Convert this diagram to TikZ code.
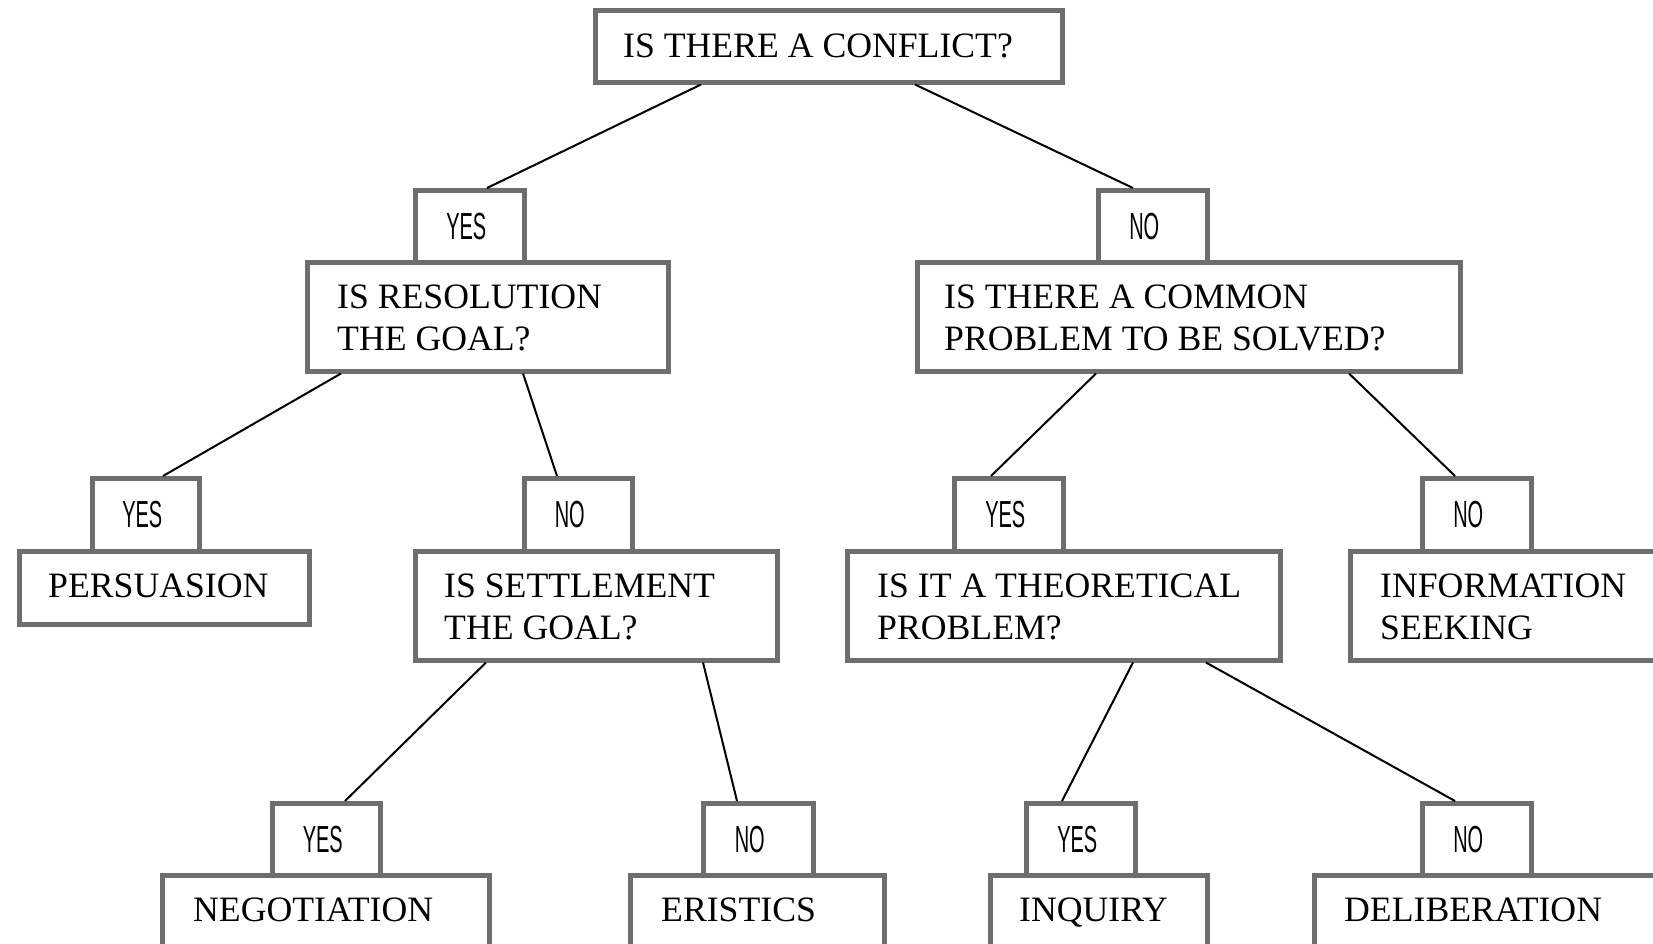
\documentclass[tikz,border=0pt]{standalone}
\usepackage{fontspec}
\usepackage{graphicx}
\setmainfont{Liberation Serif}
\newfontfamily\lblfont{Liberation Sans}
\definecolor{boxgray}{HTML}{6e6e6e}
\newcommand\lbltext[1]{\scalebox{0.53}[1]{\fontsize{37.7}{40}\lblfont #1}}
\newcommand\mkbox[5]{\node[box, minimum width=#4pt, minimum height=#5pt] (#1) at (#2,#3) {};}
\begin{document}
\begin{tikzpicture}[x=1pt,y=-1pt,
  box/.style={draw=boxgray, line width=4.5pt, inner sep=0pt, anchor=north west},
  txt/.style={anchor=base west, inner sep=0pt, font=\fontsize{35.7}{42}\selectfont},
  yestxt/.style={inner sep=0pt, xshift=-3.5pt},
  notxt/.style={inner sep=0pt, xshift=-8.5pt},
  conn/.style={draw=black, line width=2pt}]
\clip (0,0) rectangle (1653,943);
\fill[white] (0,0) rectangle (1653,943);
% boxes
\mkbox{top}{593}{8}{467}{72}
\mkbox{yes1}{413}{188}{109}{72}
\mkbox{no1}{1096}{188}{109}{72}
\mkbox{res}{305}{260}{361}{109}
\mkbox{com}{915}{260}{543}{109}
\mkbox{yes2}{90}{476}{107}{73}
\mkbox{no2}{522}{476}{108}{73}
\mkbox{yes3}{952}{476}{109}{73}
\mkbox{no3}{1420}{476}{109}{73}
\mkbox{pers}{17}{549}{290}{73}
\mkbox{sett}{413}{549}{362}{109}
\mkbox{theo}{845}{549}{433}{109}
\mkbox{info}{1348}{549}{400}{109}
\mkbox{yes4}{270}{801}{108}{72}
\mkbox{no4}{701}{801}{110}{72}
\mkbox{yes5}{1024}{801}{109}{72}
\mkbox{no5}{1420}{801}{109}{72}
\mkbox{nego}{160}{873}{327}{100}
\mkbox{eris}{628}{873}{254}{100}
\mkbox{inq}{988}{873}{217}{100}
\mkbox{delib}{1312}{873}{400}{100}
% labels
\node[yestxt] (yes1-t) at (yes1.center) {\lbltext{YES}};
\node[notxt] (no1-t) at (no1.center) {\lbltext{NO}};
\node[yestxt] (yes2-t) at (yes2.center) {\lbltext{YES}};
\node[notxt] (no2-t) at (no2.center) {\lbltext{NO}};
\node[yestxt] (yes3-t) at (yes3.center) {\lbltext{YES}};
\node[notxt] (no3-t) at (no3.center) {\lbltext{NO}};
\node[yestxt] (yes4-t) at (yes4.center) {\lbltext{YES}};
\node[notxt] (no4-t) at (no4.center) {\lbltext{NO}};
\node[yestxt] (yes5-t) at (yes5.center) {\lbltext{YES}};
\node[notxt] (no5-t) at (no5.center) {\lbltext{NO}};
% texts
\node[txt] (top-t) at ([shift={(30,49)}]top.north west) {IS THERE A CONFLICT?};
\node[txt] (res-t1) at ([shift={(32,48)}]res.north west) {IS RESOLUTION};
\node[txt] (res-t2) at ([shift={(32,90)}]res.north west) {THE GOAL?};
\node[txt] (com-t1) at ([shift={(29,48)}]com.north west) {IS THERE A COMMON};
\node[txt] (com-t2) at ([shift={(29,90)}]com.north west) {PROBLEM TO BE SOLVED?};
\node[txt] (pers-t) at ([shift={(31,48)}]pers.north west) {PERSUASION};
\node[txt] (sett-t1) at ([shift={(31,48)}]sett.north west) {IS SETTLEMENT};
\node[txt] (sett-t2) at ([shift={(31,90)}]sett.north west) {THE GOAL?};
\node[txt] (theo-t1) at ([shift={(32,48)}]theo.north west) {IS IT A THEORETICAL};
\node[txt] (theo-t2) at ([shift={(32,90)}]theo.north west) {PROBLEM?};
\node[txt] (info-t1) at ([shift={(32,48)}]info.north west) {INFORMATION};
\node[txt] (info-t2) at ([shift={(32,90)}]info.north west) {SEEKING};
\node[txt] (nego-t) at ([shift={(33,48)}]nego.north west) {NEGOTIATION};
\node[txt] (eris-t) at ([shift={(33,48)}]eris.north west) {ERISTICS};
\node[txt] (inq-t) at ([shift={(31,48)}]inq.north west) {INQUIRY};
\node[txt] (delib-t) at ([shift={(32,48)}]delib.north west) {DELIBERATION};
% connectors
\draw[conn] ([xshift=108pt]top.south west) -- ([xshift=74pt]yes1.north west);
\draw[conn] ([xshift=322pt]top.south west) -- ([xshift=37pt]no1.north west);
\draw[conn] ([xshift=36pt]res.south west) -- ([xshift=73pt]yes2.north west);
\draw[conn] ([xshift=218pt]res.south west) -- ([xshift=35pt]no2.north west);
\draw[conn] ([xshift=181pt]com.south west) -- ([xshift=39pt]yes3.north west);
\draw[conn] ([xshift=434pt]com.south west) -- ([xshift=35pt]no3.north west);
\draw[conn] ([xshift=73pt]sett.south west) -- ([xshift=75pt]yes4.north west);
\draw[conn] ([xshift=290pt]sett.south west) -- ([xshift=36pt]no4.north west);
\draw[conn] ([xshift=288pt]theo.south west) -- ([xshift=38pt]yes5.north west);
\draw[conn] ([xshift=361pt]theo.south west) -- ([xshift=35pt]no5.north west);
\end{tikzpicture}
\end{document}
